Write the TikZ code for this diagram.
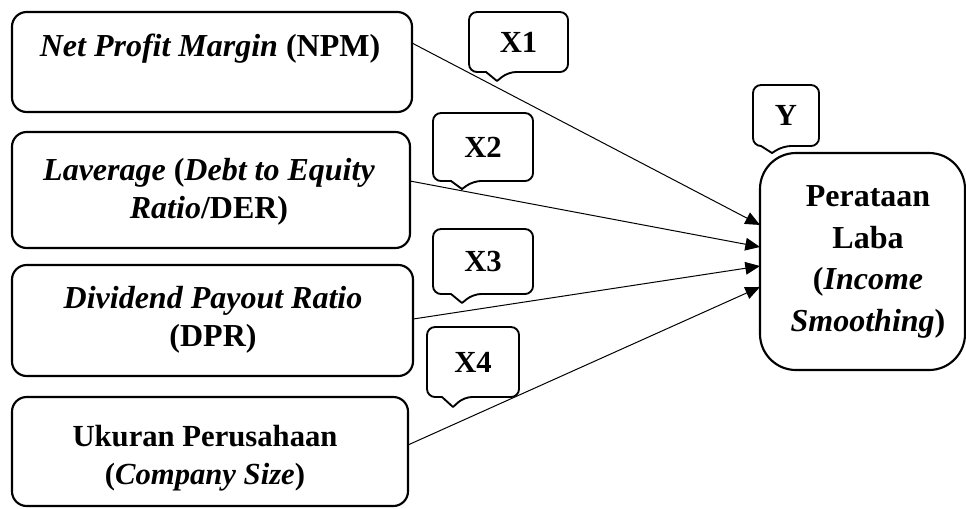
\documentclass[tikz,border=0pt]{standalone}
\usepackage{fontspec}
\setmainfont{Liberation Serif}
\usetikzlibrary{arrows.meta,calc}
\newcommand\tagoutline[1]{%
  \draw[tagline] ($(#1.south -| #1p)+(-11,0)$) [rounded corners=6pt] -- (#1.south west)
    -- (#1.north west) -- (#1.north east) -- (#1.south east)
    -- ($(#1.south -| #1p)+(11,0)$) [sharp corners] -- (#1p) -- cycle;}
\begin{document}
\begin{tikzpicture}[x=0.75pt,y=-0.75pt,
  box/.style={draw,line width=1.6pt,rounded corners=11pt,inner sep=0pt,outer sep=0pt},
  boxtext/.style={align=center,inner sep=0pt,font=\fontsize{24}{#1}\selectfont\bfseries},
  tag/.style={inner sep=0pt,outer sep=0pt,font=\fontsize{23}{26}\selectfont\bfseries},
  tagline/.style={line width=1.4pt,line join=round},
  link/.style={line width=0.75pt,-{Triangle[length=11pt,width=9.5pt]}}]
\useasboundingbox (0,0) rectangle (966,508);
% boxes
\node[box,minimum width=300pt,minimum height=75pt] (npm) at (212,62) {};
\node[boxtext=29] (npmt) at (210,49) {\textit{Net Profit Margin} (NPM)};
\node[box,minimum width=298.5pt,minimum height=87pt] (der) at (211,190) {};
\node[boxtext=28.2] (dert) at (209,192) {\textit{Laverage} (\textit{Debt to Equity}\\\textit{Ratio}/DER)};
\node[box,minimum width=300.75pt,minimum height=83.25pt] (dpr) at (212.5,320.5) {};
\node[boxtext=28.5] (dprt) at (213,319.5) {\textit{Dividend Payout Ratio}\\(DPR)};
\node[box,minimum width=297pt,minimum height=81.75pt] (size) at (210,451.5) {};
\node[boxtext=28,font=\fontsize{23}{28}\selectfont\bfseries] (sizet) at (205,458) {Ukuran Perusahaan\\(\textit{Company Size})};
\node[box,rounded corners=27pt,minimum width=153.75pt,minimum height=162.75pt] (inc) at (862.5,261.5) {};
\node[boxtext=31.3] (inct) at (868,262) {Perataan\\Laba\\(\textit{Income}\\\textit{Smoothing})};
% callouts
\coordinate (x1p) at (497,81);
\node[tag,minimum width=74.25pt,minimum height=45pt] (x1) at (518.5,42) {X1};
\tagoutline{x1}
\coordinate (typ) at (772,153);
\node[tag,minimum width=49.5pt,minimum height=45.75pt] (ty) at (786,115.5) {Y};
\tagoutline{ty}
\coordinate (x2p) at (462,189);
\node[tag,minimum width=75pt,minimum height=51pt] (x2) at (483,147) {X2};
\tagoutline{x2}
\coordinate (x3p) at (462,303);
\node[tag,minimum width=75pt,minimum height=48.75pt] (x3) at (483,261.5) {X3};
\tagoutline{x3}
\coordinate (x4p) at (453,407);
\node[tag,minimum width=69pt,minimum height=52.5pt] (x4) at (473,362) {X4};
\tagoutline{x4}
% connectors
\draw[link] ([yshift=14.25pt]npm.east) -- ([yshift=27.4pt]inc.west);
\draw[link] ([yshift=6.75pt]der.east) -- ([yshift=10.9pt]inc.west);
\draw[link] ([yshift=1.1pt]dpr.east) -- ([yshift=-3.4pt]inc.west);
\draw[link] ([yshift=4.9pt]size.east) -- ([yshift=-19.1pt]inc.west);
\end{tikzpicture}
\end{document}
